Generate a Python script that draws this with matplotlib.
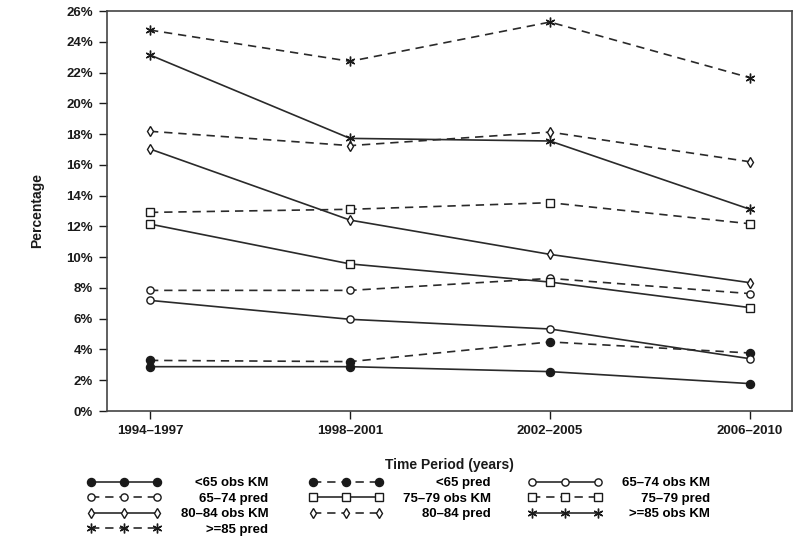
import matplotlib
matplotlib.use("Agg")
import matplotlib.pyplot as plt
import numpy as np
from matplotlib.ticker import FuncFormatter

plt.rcParams['font.family'] = ['Liberation Sans', 'DejaVu Sans']
plt.rcParams['font.weight'] = 'bold'

periods = ["1994\u20131997", "1998\u20132001", "2002\u20132005", "2006\u20132010"]

lt65_obs = [2.88, 2.88, 2.56, 1.78]
lt65_pred = [3.29, 3.21, 4.49, 3.77]
a65_74_obs = [7.19, 5.96, 5.33, 3.40]
a65_74_pred = [7.84, 7.84, 8.62, 7.63]
a75_79_obs = [12.15, 9.56, 8.38, 6.72]
a75_79_pred = [12.91, 13.11, 13.54, 12.17]
a80_84_obs = [17.03, 12.41, 10.18, 8.34]
a80_84_pred = [18.18, 17.25, 18.13, 16.20]
ge85_obs = [23.14, 17.72, 17.55, 13.11]
ge85_pred = [24.76, 22.73, 25.28, 21.66]

labels = ["<65 obs KM", "<65 pred", "65\u201374 obs KM", "65\u201374 pred",
          "75\u201379 obs KM", "75\u201379 pred", "80\u201384 obs KM", "80\u201384 pred",
          ">=85 obs KM", ">=85 pred"]
series = [lt65_obs, lt65_pred, a65_74_obs, a65_74_pred, a75_79_obs, a75_79_pred,
          a80_84_obs, a80_84_pred, ge85_obs, ge85_pred]

ink = '#1a1a1a'
# marker, filled, size
marker_style = [('o', True, 5.8), ('o', True, 5.8), ('o', False, 5.2), ('o', False, 5.2),
                ('s', False, 5.6), ('s', False, 5.6), ('d', False, 5.5), ('d', False, 5.5),
                ((6, 2, 0), False, 7), ((6, 2, 0), False, 7)]

fig = plt.figure(figsize=(8.0, 5.43), dpi=100)
ax = fig.add_axes([107 / 800, 1 - 411 / 543, 685 / 800, 400 / 543])

x = np.arange(len(periods))
handles = []
for i, (vals, lab) in enumerate(zip(series, labels)):
    m, filled, ms = marker_style[i]
    ls = '-' if i % 2 == 0 else '--'
    h, = ax.plot(x, vals, linestyle=ls, color='#2a2a2a', linewidth=1.2,
                 marker=m, markersize=ms, markeredgewidth=1.0,
                 markerfacecolor=ink if filled else 'white', markeredgecolor=ink,
                 label=lab)
    if ls == '--':
        h.set_dashes((5, 3.5))
    handles.append(h)

ax.set_xlim(-0.215, 3.21)
ax.set_ylim(0, 26)
ax.set_xticks(x)
ax.set_xticklabels(periods)
ax.set_yticks(np.arange(0, 27, 2))
ax.yaxis.set_major_formatter(FuncFormatter(lambda v, p: f"{v:.0f}%"))
ax.tick_params(direction='out', length=6, width=1.0, labelsize=9.5, colors=ink, pad=4)
for sp in ax.spines.values():
    sp.set_color('#444444')
    sp.set_linewidth(1.2)

ax.set_xlabel("Time Period (years)", fontsize=10, fontweight='bold', labelpad=15, color=ink)
ax.set_ylabel("Percentage", fontsize=10, fontweight='bold', labelpad=16, color=ink)

# legend: three columns, entries read row by row
cols = [[0, 3, 6, 9], [1, 4, 7], [2, 5, 8]]
col_x = [87, 309, 528]
for idx, cx in zip(cols, col_x):
    leg = fig.legend([handles[k] for k in idx], [labels[k] for k in idx],
                     loc='upper left', bbox_to_anchor=(cx / 800, 1 - 477 / 543),
                     frameon=False, numpoints=3, handlelength=5.6, handletextpad=1.5,
                     labelspacing=0.25, borderpad=0, borderaxespad=0, fontsize=9.5)
    fig.canvas.draw()
    r = fig.canvas.get_renderer()
    ws = [t.get_window_extent(r).width for t in leg.get_texts()]
    wmax = max(ws)
    for t, w in zip(leg.get_texts(), ws):
        t.set_position((wmax - w, 0))

fig.savefig("out.png", dpi=100)
